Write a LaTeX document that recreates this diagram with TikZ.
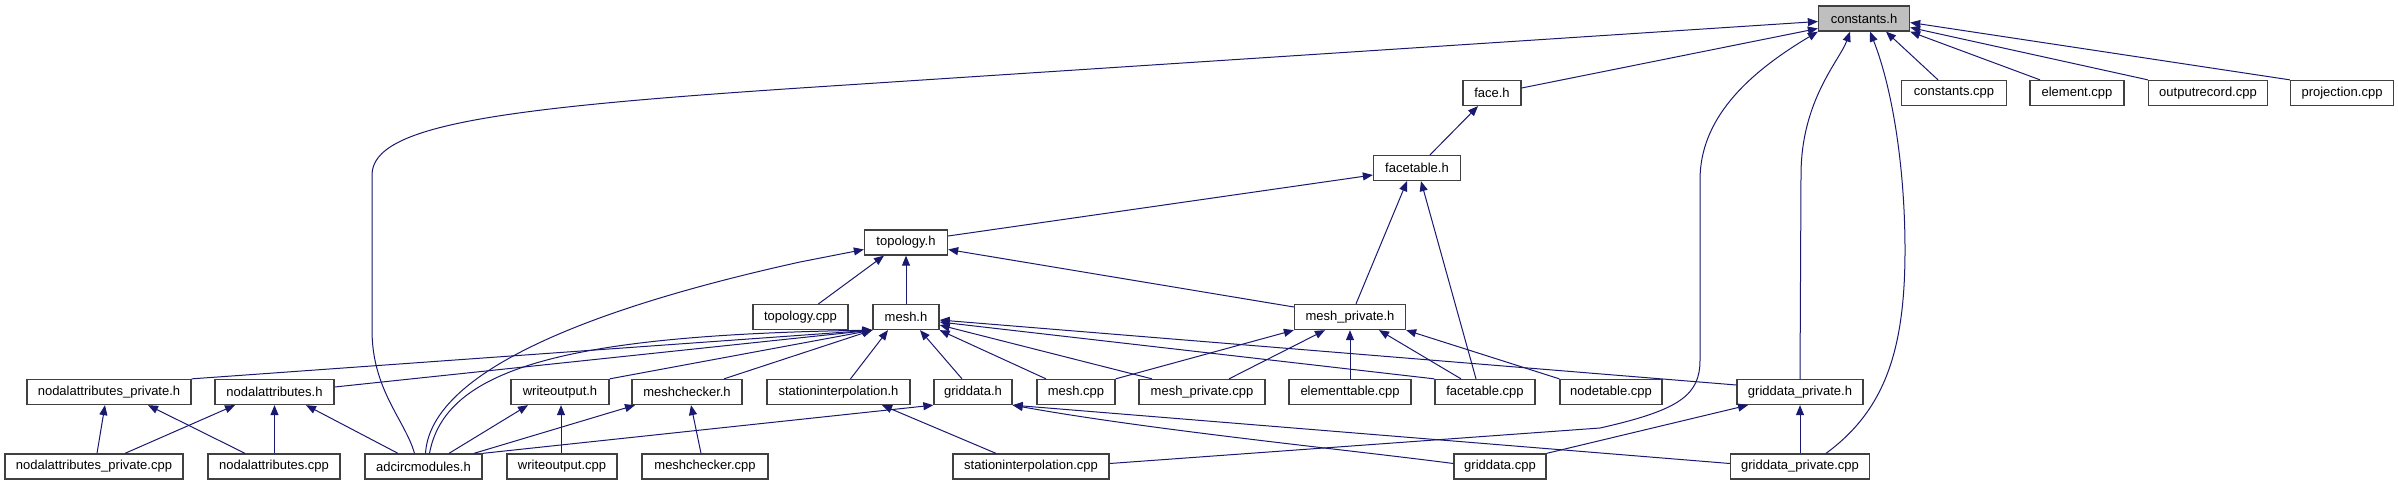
\documentclass[tikz,border=0pt]{standalone}
\usepackage{fontspec}
\newfontfamily\dfont{Liberation Sans}
\usetikzlibrary{arrows.meta}
\definecolor{edgeblue}{HTML}{191970}
\definecolor{rootgray}{HTML}{BFBFBF}
\tikzset{
  box/.style={draw=black!75, line width=1.3pt, fill=white, minimum height=25pt,
    inner sep=0pt, font=\dfont\fontsize{13}{15}\selectfont},
  rootbox/.style={box, fill=rootgray},
  dep/.style={draw=edgeblue, line width=1pt, {Triangle[length=10pt,width=8pt]}-},
}
\begin{document}
\begin{tikzpicture}[x=1pt,y=-1pt]
\useasboundingbox (0,0) rectangle (2398,485);
% row 0
\node[rootbox, minimum width=91pt] (ch) at (1864,18.5) {constants.h};
% row 1
\node[box, minimum width=58pt] (face) at (1492,93) {face.h};
\node[box, minimum width=105pt] (ccpp) at (1954,93) {constants.cpp};
\node[box, minimum width=94pt] (ecpp) at (2077,93) {element.cpp};
\node[box, minimum width=119pt] (ocpp) at (2208,93) {outputrecord.cpp};
\node[box, minimum width=103pt] (pcpp) at (2342,93) {projection.cpp};
% row 2
\node[box, minimum width=87pt] (fth) at (1417,168) {facetable.h};
% row 3
\node[box, minimum width=83pt] (topo) at (906,242.5) {topology.h};
% row 4
\node[box, minimum width=95pt] (tcpp) at (800.5,317) {topology.cpp};
\node[box, minimum width=66pt] (mesh) at (906,317) {mesh.h};
\node[box, minimum width=111pt] (mph) at (1350,317) {mesh\_private.h};
% row 5
\node[box, minimum width=164pt] (naph) at (109,392) {nodalattributes\_private.h};
\node[box, minimum width=119pt] (nah) at (274.5,392) {nodalattributes.h};
\node[box, minimum width=98pt] (woh) at (560,392) {writeoutput.h};
\node[box, minimum width=110pt] (mch) at (687,392) {meshchecker.h};
\node[box, minimum width=143pt] (sih) at (838.5,392) {stationinterpolation.h};
\node[box, minimum width=78pt] (gdh) at (973,392) {griddata.h};
\node[box, minimum width=78pt] (mcpp) at (1076,392) {mesh.cpp};
\node[box, minimum width=126pt] (mpcpp) at (1202,392) {mesh\_private.cpp};
\node[box, minimum width=122pt] (etcpp) at (1350,392) {elementtable.cpp};
\node[box, minimum width=100pt] (ftcpp) at (1485,392) {facetable.cpp};
\node[box, minimum width=102pt] (ntcpp) at (1611,392) {nodetable.cpp};
\node[box, minimum width=126pt] (gph) at (1800,392) {griddata\_private.h};
% row 6
\node[box, minimum width=178pt] (napcpp) at (94,466.5) {nodalattributes\_private.cpp};
\node[box, minimum width=132pt] (nacpp) at (274,466.5) {nodalattributes.cpp};
\node[box, minimum width=117pt] (adc) at (423.5,466.5) {adcircmodules.h};
\node[box, minimum width=110pt] (wocpp) at (562,466.5) {writeoutput.cpp};
\node[box, minimum width=126pt] (mccpp) at (705,466.5) {meshchecker.cpp};
\node[box, minimum width=156pt] (sicpp) at (1031,466.5) {stationinterpolation.cpp};
\node[box, minimum width=92pt] (gdcpp) at (1500,466.5) {griddata.cpp};
\node[box, minimum width=139pt] (gpcpp) at (1800,466.5) {griddata\_private.cpp};

% edges to constants.h
\draw[dep] ([yshift=-3pt]ch.west) -- (800,88) .. controls (500,108) and (372,125) .. (372,175)
  -- (372,330) .. controls (372,390) and (405,420) .. ([xshift=-9pt]adc.north);
\draw[dep] ([yshift=-10pt]ch.west) -- ([yshift=5pt]face.east);
\draw[dep] (ch.south west) .. controls (1745,75) and (1700,120) .. (1700,180)
  -- (1700,360) .. controls (1700,395) and (1680,410) .. (1600,428) -- ([yshift=3pt]sicpp.east);
\draw[dep] ([xshift=-14pt]ch.south) .. controls (1840,60) and (1801,100) .. (1801,175) -- (gph.north);
\draw[dep] ([xshift=6pt]ch.south) .. controls (1893,90) and (1905,170) .. (1905,250)
  .. controls (1905,350) and (1885,410) .. ([xshift=26pt]gpcpp.north);
\draw[dep] ([xshift=22pt]ch.south) -- ([xshift=-16pt]ccpp.north);
\draw[dep] (ch.south east) -- ([xshift=-37pt]ecpp.north);
\draw[dep] ([yshift=-9pt]ch.east) -- (ocpp.north west);
\draw[dep] ([yshift=-4pt]ch.east) -- (pcpp.north west);
% face.h
\draw[dep] ([xshift=-14pt]face.south) -- ([xshift=13pt]fth.north);
% facetable.h
\draw[dep] ([yshift=-7pt]fth.west) -- ([yshift=6.5pt]topo.east);
\draw[dep] ([xshift=-10pt]fth.south) -- ([xshift=6pt]mph.north);
\draw[dep] ([xshift=4pt]fth.south) -- ([xshift=-9pt]ftcpp.north);
% topology.h
\draw[dep] ([yshift=-7pt]topo.west) -- (800,262) .. controls (560,315) and (430,380) .. ([xshift=2pt]adc.north);
\draw[dep] ([xshift=-22pt]topo.south) -- ([xshift=18pt]tcpp.north);
\draw[dep] (topo.south) -- (mesh.north);
\draw[dep] ([yshift=-7pt]topo.east) -- ([yshift=10pt]mph.west);
% mesh.h
\draw[dep] (mesh.south west) .. controls (560,335) and (445,370) .. ([xshift=6pt]adc.north);
\draw[dep] (mesh.south west) -- (naph.north east);
\draw[dep] (mesh.south west) -- ([yshift=5pt]nah.east);
\draw[dep] (mesh.south west) -- (woh.north east);
\draw[dep] (mesh.south west) -- ([xshift=37pt]mch.north);
\draw[dep] ([xshift=-18pt]mesh.south) -- ([xshift=12pt]sih.north);
\draw[dep] ([xshift=14pt]mesh.south) -- ([xshift=-11pt]gdh.north);
\draw[dep] (mesh.south east) -- ([xshift=-30pt]mcpp.north);
\draw[dep] ([yshift=-8pt]mesh.east) -- ([xshift=-50pt]mpcpp.north);
\draw[dep] ([yshift=-5pt]mesh.east) -- (ftcpp.north west);
\draw[dep] ([yshift=-3pt]mesh.east) -- ([yshift=7pt]gph.west);
% mesh_private.h
\draw[dep] (mph.south west) -- (mcpp.north east);
\draw[dep] ([xshift=-25pt]mph.south) -- ([xshift=27pt]mpcpp.north);
\draw[dep] (mph.south) -- (etcpp.north);
\draw[dep] ([xshift=29pt]mph.south) -- ([xshift=-24pt]ftcpp.north);
\draw[dep] (mph.south east) -- (ntcpp.north west);
% nodalattributes
\draw[dep] ([xshift=-4pt]naph.south) -- ([xshift=3pt]napcpp.north);
\draw[dep] ([xshift=39pt]naph.south) -- ([xshift=-29pt]nacpp.north);
\draw[dep] ([xshift=-39.5pt]nah.south) -- ([xshift=31pt]napcpp.north);
\draw[dep] (nah.south) -- (nah.south |- nacpp.north);
\draw[dep] ([xshift=31.5pt]nah.south) -- ([xshift=-25.5pt]adc.north);
% writeoutput / meshchecker
\draw[dep] ([xshift=-32pt]woh.south) -- ([xshift=25.5pt]adc.north);
\draw[dep] ([xshift=1pt]woh.south) -- ([xshift=-1pt]wocpp.north);
\draw[dep] ([xshift=-52pt]mch.south) -- ([xshift=50.5pt]adc.north);
\draw[dep] ([xshift=4pt]mch.south) -- ([xshift=-4pt]mccpp.north);
% griddata / stationinterpolation
\draw[dep] (gdh.south west) -- (adc.north east);
\draw[dep] ([xshift=43.5pt]sih.south) -- ([xshift=-35pt]sicpp.north);
\draw[dep] (gdh.south east) .. controls (1150,430) and (1350,450) .. ([yshift=3pt]gdcpp.west);
\draw[dep] (gdh.south east) -- ([yshift=3pt]gpcpp.west);
\draw[dep] ([xshift=-52pt]gph.south) -- (gdcpp.north east);
\draw[dep] (gph.south) -- (gpcpp.north);
\end{tikzpicture}
\end{document}
